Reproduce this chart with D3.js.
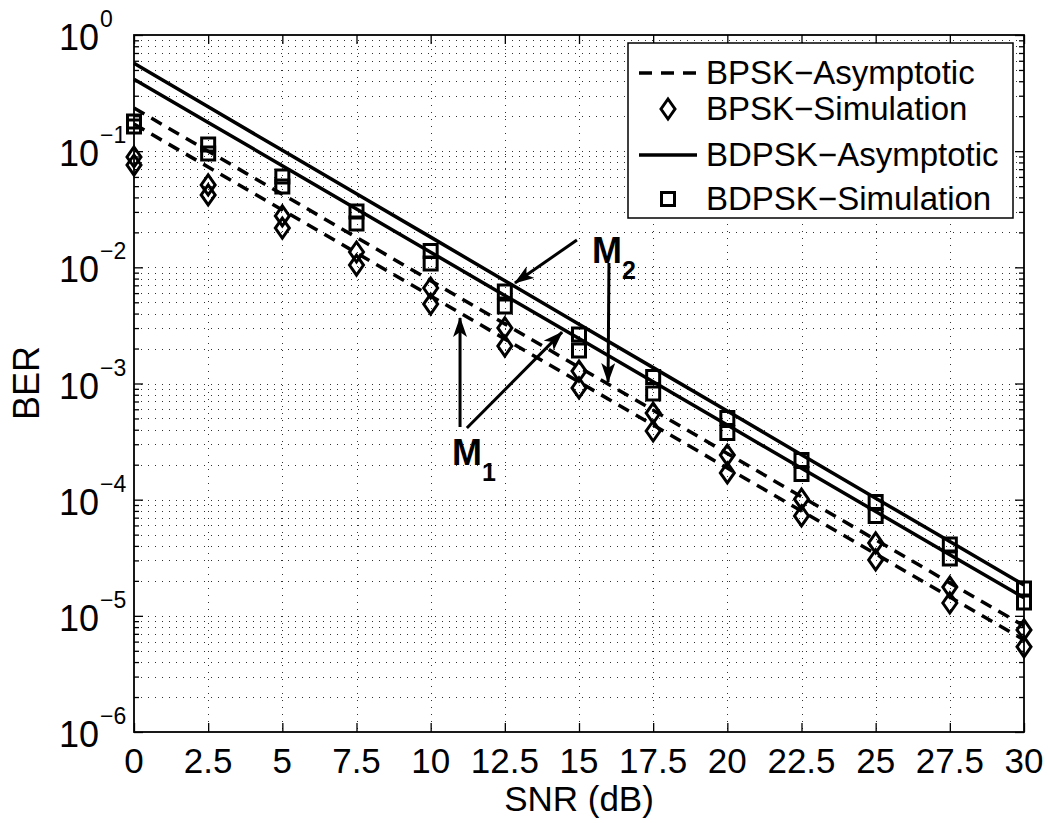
<!DOCTYPE html>
<html>
<head>
<meta charset="utf-8">
<script src="https://cdn.jsdelivr.net/npm/d3@7"></script>
<style>
  body { margin: 0; background: #fff; }
  text { font-family: "Liberation Sans", Arial, Helvetica, sans-serif; fill: #000; }
</style>
</head>
<body>
<svg id="chart" width="1050" height="823"></svg>
<script>
// SNR grid (dB) shared by all series
const snr = [0, 2.5, 5, 7.5, 10, 12.5, 15, 17.5, 20, 22.5, 25, 27.5, 30];
const xTickLabels = ["0", "2.5", "5", "7.5", "10", "12.5", "15", "17.5", "20", "22.5", "25", "27.5", "30"];
const yTickExponents = [0, -1, -2, -3, -4, -5, -6];

// Asymptotic BER curves (M1 = lower pair, M2 = upper pair)
const bpskAsymM2 = [0.235, 0.100, 0.0425, 0.0181, 0.00767, 0.00326, 0.00138, 5.89e-4, 2.50e-4, 1.06e-4, 4.52e-5, 1.92e-5, 8.18e-6];
const bpskAsymM1 = [0.171, 0.0731, 0.0312, 0.0133, 0.00567, 0.00242, 0.00103, 4.39e-4, 1.87e-4, 7.99e-5, 3.41e-5, 1.45e-5, 6.20e-6];
const bdpskAsymM2 = [0.571, 0.241, 0.1017, 0.0430, 0.0182, 0.00767, 0.00324, 0.00137, 5.79e-4, 2.44e-4, 1.03e-4, 4.36e-5, 1.84e-5];
const bdpskAsymM1 = [0.416, 0.1765, 0.0750, 0.0318, 0.0135, 0.00573, 0.00244, 0.001035, 4.39e-4, 1.86e-4, 7.91e-5, 3.36e-5, 1.43e-5];

// Simulated BER
const bpskSimM2 = [0.0891, 0.0512, 0.0277, 0.01355, 0.00664, 0.00301, 0.00128, 5.57e-4, 2.42e-4, 1.01e-4, 4.24e-5, 1.77e-5, 7.57e-6];
const bpskSimM1 = [0.0760, 0.0420, 0.0218, 0.01047, 0.00483, 0.00210, 9.15e-4, 3.90e-4, 1.70e-4, 7.24e-5, 3.03e-5, 1.29e-5, 5.41e-6];
const bdpskSimM2 = [0.180, 0.1141, 0.0605, 0.0303, 0.01383, 0.00619, 0.00264, 0.001138, 5.05e-4, 2.20e-4, 9.55e-5, 4.11e-5, 1.72e-5];
const bdpskSimM1 = [0.1631, 0.0955, 0.0497, 0.02384, 0.01079, 0.00460, 0.00192, 8.20e-4, 3.75e-4, 1.66e-4, 7.24e-5, 3.12e-5, 1.30e-5];

const legendLabels = ["BPSK\u2212Asymptotic", "BPSK\u2212Simulation", "BDPSK\u2212Asymptotic", "BDPSK\u2212Simulation"];

// Callouts in data coordinates: [snrFrom, berFrom, snrTo, berTo]
const calloutArrows = [
  [14.93, 0.01718, 12.84, 0.00733],
  [16.01, 0.01089, 15.98, 0.00103],
  [10.99, 4.22e-4, 10.99, 0.00366],
  [11.22, 4.14e-4, 14.43, 0.00277]
];
const calloutLabels = [
  { main: "M", sub: "2", snr: 15.44, ber: 0.0109 },
  { main: "M", sub: "1", snr: 10.72, ber: 1.99e-4 }
];

const svg = d3.select("#chart");
const plotLeft = 134, plotRight = 1024, plotTop = 35, plotBottom = 732;

const x = d3.scaleLinear().domain([0, 30]).range([plotLeft, plotRight]);
const y = d3.scaleLog().domain([1e-6, 1]).range([plotBottom, plotTop]);

// background
svg.append("rect").attr("width", 1050).attr("height", 823).attr("fill", "#fff");

// grid values: every decade plus 2..9 minors
const yGrid = [];
for (let e = -6; e < 0; e++) for (let k = 1; k <= 9; k++) yGrid.push(k * Math.pow(10, e));
yGrid.push(1);

const grid = svg.append("g").attr("stroke", "#000").attr("stroke-width", 1)
  .attr("stroke-dasharray", "1,6").attr("opacity", 0.8);
grid.selectAll("line.h").data(yGrid.filter(v => v > 1e-6 && v < 1)).join("line")
  .attr("x1", plotLeft).attr("x2", plotRight)
  .attr("y1", d => Math.round(y(d)) + 0.5).attr("y2", d => Math.round(y(d)) + 0.5);
grid.selectAll("line.v").data(snr.filter(v => v > 0 && v < 30)).join("line")
  .attr("x1", d => Math.round(x(d)) + 0.5).attr("x2", d => Math.round(x(d)) + 0.5)
  .attr("y1", plotTop).attr("y2", plotBottom);

// axes with inward ticks
const axisStyle = g => g.call(s => s.select(".domain").remove())
  .selectAll("line").attr("stroke", "#000").attr("stroke-width", 1.3);

svg.append("g").attr("transform", `translate(0,${plotBottom})`)
  .call(d3.axisBottom(x).tickValues(snr).tickSizeInner(-9).tickSizeOuter(0).tickFormat(""))
  .call(axisStyle);
svg.append("g").attr("transform", `translate(0,${plotTop})`)
  .call(d3.axisTop(x).tickValues(snr).tickSizeInner(-9).tickSizeOuter(0).tickFormat(""))
  .call(axisStyle);

const yMajor = yTickExponents.map(e => Math.pow(10, e));
const yMinor = yGrid.filter(v => !yMajor.some(m => Math.abs(m - v) / m < 1e-9));
[[d3.axisLeft, plotLeft], [d3.axisRight, plotRight]].forEach(([ax, pos]) => {
  svg.append("g").attr("transform", `translate(${pos},0)`)
    .call(ax(y).tickValues(yMajor).tickSizeInner(-9).tickSizeOuter(0).tickFormat(""))
    .call(axisStyle);
  svg.append("g").attr("transform", `translate(${pos},0)`)
    .call(ax(y).tickValues(yMinor).tickSizeInner(-5).tickSizeOuter(0).tickFormat(""))
    .call(axisStyle);
});

// frame
svg.append("rect").attr("x", plotLeft).attr("y", plotTop)
  .attr("width", plotRight - plotLeft).attr("height", plotBottom - plotTop)
  .attr("fill", "none").attr("stroke", "#000").attr("stroke-width", 1.8);

// x tick labels
svg.append("g").selectAll("text").data(snr).join("text")
  .attr("x", d => x(d)).attr("y", plotBottom + 41)
  .attr("text-anchor", "middle").attr("font-size", 35)
  .text((d, i) => xTickLabels[i]);

// y tick labels as 10^e
const yl = svg.append("g");
yTickExponents.forEach(e => {
  const v = Math.pow(10, e);
  yl.append("text").attr("x", 99).attr("y", y(v) + 15)
    .attr("text-anchor", "end").attr("font-size", 36).text("10");
  yl.append("text").attr("x", 100).attr("y", y(v) - 8)
    .attr("text-anchor", "start").attr("font-size", 23)
    .text(e === 0 ? "0" : "\u2212" + Math.abs(e));
});

// axis titles
svg.append("text").attr("x", (plotLeft + plotRight) / 2).attr("y", 811)
  .attr("text-anchor", "middle").attr("font-size", 35).text("SNR (dB)");
svg.append("text").attr("transform", "translate(39,383) rotate(-90)")
  .attr("text-anchor", "middle").attr("font-size", 36).text("BER");

// curves
const plot = svg.append("g");
const line = d3.line().x((d, i) => x(snr[i])).y(d => y(d));
[bpskAsymM2, bpskAsymM1].forEach(s => plot.append("path").datum(s)
  .attr("d", line).attr("fill", "none").attr("stroke", "#000")
  .attr("stroke-width", 3.5).attr("stroke-dasharray", "12,8"));
[bdpskAsymM2, bdpskAsymM1].forEach(s => plot.append("path").datum(s)
  .attr("d", line).attr("fill", "none").attr("stroke", "#000")
  .attr("stroke-width", 3.5));

// marker shapes
const diamondPath = (cx, cy) => `M${cx},${cy - 10}L${cx + 7},${cy}L${cx},${cy + 10}L${cx - 7},${cy}Z`;
const squarePath = (cx, cy) => `M${cx - 6.5},${cy - 6.5}h13v13h-13Z`;

[bpskSimM2, bpskSimM1].forEach(s => plot.append("g").selectAll("path").data(s).join("path")
  .attr("d", (d, i) => diamondPath(x(snr[i]), y(d)))
  .attr("fill", "none").attr("stroke", "#000").attr("stroke-width", 3));
[bdpskSimM2, bdpskSimM1].forEach(s => plot.append("g").selectAll("path").data(s).join("path")
  .attr("d", (d, i) => squarePath(x(snr[i]), y(d)))
  .attr("fill", "none").attr("stroke", "#000").attr("stroke-width", 3));

// callout arrows
const defs = svg.append("defs");
defs.append("marker").attr("id", "arrowHead")
  .attr("viewBox", "0 0 20 14").attr("refX", 19).attr("refY", 7)
  .attr("markerWidth", 20).attr("markerHeight", 14)
  .attr("markerUnits", "userSpaceOnUse").attr("orient", "auto")
  .append("path").attr("d", "M0,0L20,7L0,14L5,7Z").attr("fill", "#000");

svg.append("g").selectAll("line").data(calloutArrows).join("line")
  .attr("x1", d => x(d[0])).attr("y1", d => y(d[1]))
  .attr("x2", d => x(d[2])).attr("y2", d => y(d[3]))
  .attr("stroke", "#000").attr("stroke-width", 3)
  .attr("marker-end", "url(#arrowHead)");

calloutLabels.forEach(c => {
  const t = svg.append("text").attr("x", x(c.snr)).attr("y", y(c.ber))
    .attr("font-size", 36).attr("font-weight", "bold");
  t.append("tspan").text(c.main);
  t.append("tspan").attr("dy", 16).attr("font-size", 25).text(c.sub);
});

// legend
const lg = svg.append("g");
lg.append("rect").attr("x", 628).attr("y", 43).attr("width", 385).attr("height", 175)
  .attr("fill", "#fff").attr("stroke", "#000").attr("stroke-width", 1.5);
const rowBase = [84, 120, 166, 210];
legendLabels.forEach((lab, i) => {
  const cy = rowBase[i] - 11;
  if (i === 0) lg.append("line").attr("x1", 639).attr("x2", 697).attr("y1", cy).attr("y2", cy)
    .attr("stroke", "#000").attr("stroke-width", 3.5).attr("stroke-dasharray", "13,9");
  if (i === 2) lg.append("line").attr("x1", 639).attr("x2", 697).attr("y1", cy).attr("y2", cy)
    .attr("stroke", "#000").attr("stroke-width", 3.5);
  if (i === 1) lg.append("path").attr("d", diamondPath(668, cy))
    .attr("fill", "none").attr("stroke", "#000").attr("stroke-width", 3);
  if (i === 3) lg.append("path").attr("d", squarePath(668, cy))
    .attr("fill", "none").attr("stroke", "#000").attr("stroke-width", 3);
  lg.append("text").attr("x", 706).attr("y", rowBase[i]).attr("font-size", 33).text(lab);
});
</script>
</body>
</html>
